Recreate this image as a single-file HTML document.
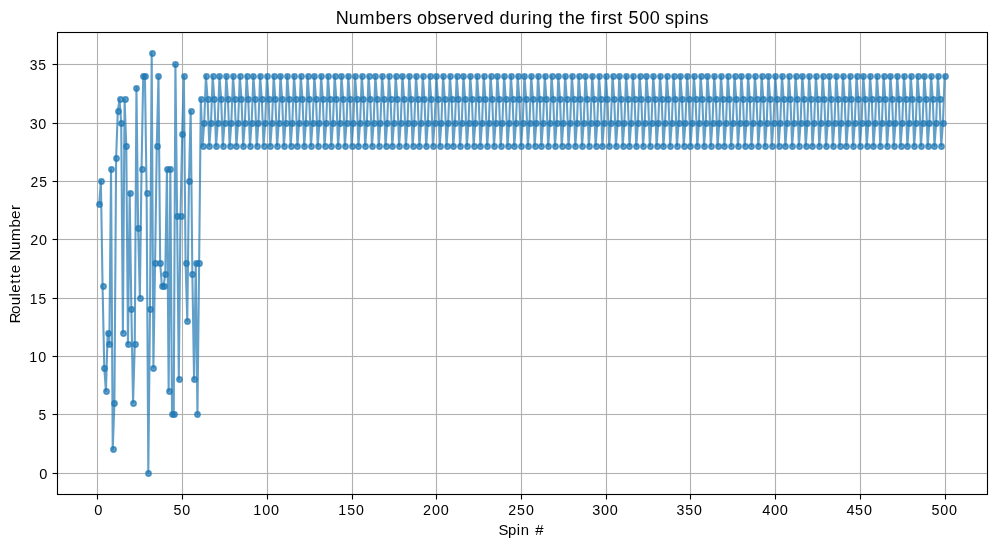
<!DOCTYPE html>
<html><head><meta charset="utf-8"><title>Numbers observed during the first 500 spins</title>
<style>html,body{margin:0;padding:0;background:#fff;width:996px;height:547px;overflow:hidden}svg{display:block}text{font-family:"Liberation Sans",sans-serif;fill:#000}</style></head><body>
<svg width="996" height="547" viewBox="0 0 996 547">
<rect x="0" y="0" width="996" height="547" fill="#fff"/>
<path d="M97.5 32.50V494.50M182.5 32.50V494.50M267.5 32.50V494.50M352.5 32.50V494.50M436.5 32.50V494.50M521.5 32.50V494.50M606.5 32.50V494.50M690.5 32.50V494.50M775.5 32.50V494.50M860.5 32.50V494.50M945.5 32.50V494.50M57.50 473.5H987.50M57.50 414.5H987.50M57.50 356.5H987.50M57.50 298.5H987.50M57.50 239.5H987.50M57.50 181.5H987.50M57.50 123.5H987.50M57.50 64.5H987.50" stroke="#b0b0b0" stroke-width="1.111" fill="none" shape-rendering="auto"/>
<path d="M57.50 472.5H987.50M57.50 474.5H987.50M57.50 413.5H987.50M57.50 415.5H987.50M57.50 355.5H987.50M57.50 357.5H987.50M57.50 297.5H987.50M57.50 299.5H987.50M57.50 238.5H987.50M57.50 240.5H987.50M57.50 180.5H987.50M57.50 182.5H987.50M57.50 122.5H987.50M57.50 124.5H987.50M57.50 63.5H987.50M57.50 65.5H987.50" stroke="#b0b0b0" stroke-opacity="0.055" stroke-width="1" fill="none"/>
<path d="M99.18 204.39L100.87 181.06L102.56 286.06L104.26 367.72L105.95 391.06L107.65 332.72L109.34 344.39L111.04 169.39L112.73 449.39L114.42 402.72L116.12 157.72L117.81 111.06L119.51 99.39L121.20 122.72L122.90 332.72L124.59 99.39L126.28 146.06L127.98 344.39L129.67 192.72L131.37 309.39L133.06 402.72L134.76 344.39L136.45 87.72L138.14 227.72L139.84 297.72L141.53 169.39L143.23 76.06L144.92 76.06L146.62 192.72L148.31 472.72L150.00 309.39L151.70 52.72L153.39 367.72L155.09 262.72L156.78 146.06L158.48 76.06L160.17 262.72L161.86 286.06L163.56 286.06L165.25 274.39L166.95 169.39L168.64 391.06L170.34 169.39L172.03 414.39L173.72 414.39L175.42 64.39L177.11 216.06L178.81 379.39L180.50 216.06L182.20 134.39L183.89 76.06L185.58 262.72L187.28 321.06L188.97 181.06L190.67 111.06L192.36 274.39L194.06 379.39L195.75 262.72L197.44 414.39L199.14 262.72L200.83 99.39L202.53 146.06L204.22 122.72L205.92 76.06L207.61 99.39L209.30 146.06L211.00 122.72L212.69 76.06L214.39 99.39L216.08 146.06L217.78 122.72L219.47 76.06L221.16 99.39L222.86 146.06L224.55 122.72L226.25 76.06L227.94 99.39L229.64 146.06L231.33 122.72L233.03 76.06L234.72 99.39L236.41 146.06L238.11 122.72L239.80 76.06L241.50 99.39L243.19 146.06L244.89 122.72L246.58 76.06L248.27 99.39L249.97 146.06L251.66 122.72L253.36 76.06L255.05 99.39L256.75 146.06L258.44 122.72L260.13 76.06L261.83 99.39L263.52 146.06L265.22 122.72L266.91 76.06L268.61 99.39L270.30 146.06L271.99 122.72L273.69 76.06L275.38 99.39L277.08 146.06L278.77 122.72L280.47 76.06L282.16 99.39L283.85 146.06L285.55 122.72L287.24 76.06L288.94 99.39L290.63 146.06L292.33 122.72L294.02 76.06L295.71 99.39L297.41 146.06L299.10 122.72L300.80 76.06L302.49 99.39L304.19 146.06L305.88 122.72L307.57 76.06L309.27 99.39L310.96 146.06L312.66 122.72L314.35 76.06L316.05 99.39L317.74 146.06L319.43 122.72L321.13 76.06L322.82 99.39L324.52 146.06L326.21 122.72L327.91 76.06L329.60 99.39L331.29 146.06L332.99 122.72L334.68 76.06L336.38 99.39L338.07 146.06L339.77 122.72L341.46 76.06L343.15 99.39L344.85 146.06L346.54 122.72L348.24 76.06L349.93 99.39L351.63 146.06L353.32 122.72L355.01 76.06L356.71 99.39L358.40 146.06L360.10 122.72L361.79 76.06L363.49 99.39L365.18 146.06L366.87 122.72L368.57 76.06L370.26 99.39L371.96 146.06L373.65 122.72L375.35 76.06L377.04 99.39L378.73 146.06L380.43 122.72L382.12 76.06L383.82 99.39L385.51 146.06L387.21 122.72L388.90 76.06L390.59 99.39L392.29 146.06L393.98 122.72L395.68 76.06L397.37 99.39L399.07 146.06L400.76 122.72L402.45 76.06L404.15 99.39L405.84 146.06L407.54 122.72L409.23 76.06L410.93 99.39L412.62 146.06L414.31 122.72L416.01 76.06L417.70 99.39L419.40 146.06L421.09 122.72L422.79 76.06L424.48 99.39L426.17 146.06L427.87 122.72L429.56 76.06L431.26 99.39L432.95 146.06L434.65 122.72L436.34 76.06L438.04 99.39L439.73 146.06L441.42 122.72L443.12 76.06L444.81 99.39L446.51 146.06L448.20 122.72L449.90 76.06L451.59 99.39L453.28 146.06L454.98 122.72L456.67 76.06L458.37 99.39L460.06 146.06L461.76 122.72L463.45 76.06L465.14 99.39L466.84 146.06L468.53 122.72L470.23 76.06L471.92 99.39L473.62 146.06L475.31 122.72L477.00 76.06L478.70 99.39L480.39 146.06L482.09 122.72L483.78 76.06L485.48 99.39L487.17 146.06L488.86 122.72L490.56 76.06L492.25 99.39L493.95 146.06L495.64 122.72L497.34 76.06L499.03 99.39L500.72 146.06L502.42 122.72L504.11 76.06L505.81 99.39L507.50 146.06L509.20 122.72L510.89 76.06L512.58 99.39L514.28 146.06L515.97 122.72L517.67 76.06L519.36 99.39L521.06 146.06L522.75 122.72L524.44 76.06L526.14 99.39L527.83 146.06L529.53 122.72L531.22 76.06L532.92 99.39L534.61 146.06L536.30 122.72L538.00 76.06L539.69 99.39L541.39 146.06L543.08 122.72L544.78 76.06L546.47 99.39L548.16 146.06L549.86 122.72L551.55 76.06L553.25 99.39L554.94 146.06L556.64 122.72L558.33 76.06L560.02 99.39L561.72 146.06L563.41 122.72L565.11 76.06L566.80 99.39L568.50 146.06L570.19 122.72L571.88 76.06L573.58 99.39L575.27 146.06L576.97 122.72L578.66 76.06L580.36 99.39L582.05 146.06L583.74 122.72L585.44 76.06L587.13 99.39L588.83 146.06L590.52 122.72L592.22 76.06L593.91 99.39L595.60 146.06L597.30 122.72L598.99 76.06L600.69 99.39L602.38 146.06L604.08 122.72L605.77 76.06L607.46 99.39L609.16 146.06L610.85 122.72L612.55 76.06L614.24 99.39L615.94 146.06L617.63 122.72L619.32 76.06L621.02 99.39L622.71 146.06L624.41 122.72L626.10 76.06L627.80 99.39L629.49 146.06L631.18 122.72L632.88 76.06L634.57 99.39L636.27 146.06L637.96 122.72L639.66 76.06L641.35 99.39L643.05 146.06L644.74 122.72L646.43 76.06L648.13 99.39L649.82 146.06L651.52 122.72L653.21 76.06L654.91 99.39L656.60 146.06L658.29 122.72L659.99 76.06L661.68 99.39L663.38 146.06L665.07 122.72L666.77 76.06L668.46 99.39L670.15 146.06L671.85 122.72L673.54 76.06L675.24 99.39L676.93 146.06L678.63 122.72L680.32 76.06L682.01 99.39L683.71 146.06L685.40 122.72L687.10 76.06L688.79 99.39L690.49 146.06L692.18 122.72L693.87 76.06L695.57 99.39L697.26 146.06L698.96 122.72L700.65 76.06L702.35 99.39L704.04 146.06L705.73 122.72L707.43 76.06L709.12 99.39L710.82 146.06L712.51 122.72L714.21 76.06L715.90 99.39L717.59 146.06L719.29 122.72L720.98 76.06L722.68 99.39L724.37 146.06L726.07 122.72L727.76 76.06L729.45 99.39L731.15 146.06L732.84 122.72L734.54 76.06L736.23 99.39L737.93 146.06L739.62 122.72L741.31 76.06L743.01 99.39L744.70 146.06L746.40 122.72L748.09 76.06L749.79 99.39L751.48 146.06L753.17 122.72L754.87 76.06L756.56 99.39L758.26 146.06L759.95 122.72L761.65 76.06L763.34 99.39L765.03 146.06L766.73 122.72L768.42 76.06L770.12 99.39L771.81 146.06L773.51 122.72L775.20 76.06L776.89 99.39L778.59 146.06L780.28 122.72L781.98 76.06L783.67 99.39L785.37 146.06L787.06 122.72L788.75 76.06L790.45 99.39L792.14 146.06L793.84 122.72L795.53 76.06L797.23 99.39L798.92 146.06L800.61 122.72L802.31 76.06L804.00 99.39L805.70 146.06L807.39 122.72L809.09 76.06L810.78 99.39L812.47 146.06L814.17 122.72L815.86 76.06L817.56 99.39L819.25 146.06L820.95 122.72L822.64 76.06L824.33 99.39L826.03 146.06L827.72 122.72L829.42 76.06L831.11 99.39L832.81 146.06L834.50 122.72L836.19 76.06L837.89 99.39L839.58 146.06L841.28 122.72L842.97 76.06L844.67 99.39L846.36 146.06L848.06 122.72L849.75 76.06L851.44 99.39L853.14 146.06L854.83 122.72L856.53 76.06L858.22 99.39L859.92 146.06L861.61 122.72L863.30 76.06L865.00 99.39L866.69 146.06L868.39 122.72L870.08 76.06L871.78 99.39L873.47 146.06L875.16 122.72L876.86 76.06L878.55 99.39L880.25 146.06L881.94 122.72L883.64 76.06L885.33 99.39L887.02 146.06L888.72 122.72L890.41 76.06L892.11 99.39L893.80 146.06L895.50 122.72L897.19 76.06L898.88 99.39L900.58 146.06L902.27 122.72L903.97 76.06L905.66 99.39L907.36 146.06L909.05 122.72L910.74 76.06L912.44 99.39L914.13 146.06L915.83 122.72L917.52 76.06L919.22 99.39L920.91 146.06L922.60 122.72L924.30 76.06L925.99 99.39L927.69 146.06L929.38 122.72L931.08 76.06L932.77 99.39L934.46 146.06L936.16 122.72L937.85 76.06L939.55 99.39L941.24 146.06L942.94 122.72L944.63 76.06" stroke="#1f77b4" stroke-opacity="0.7" stroke-width="2.083" fill="none" stroke-linejoin="round" stroke-linecap="square"/>
<g fill="#1f77b4" fill-opacity="0.7" stroke="#1f77b4" stroke-opacity="0.7" stroke-width="1.300"><circle cx="99.5" cy="204.5" r="2.740"/><circle cx="101.5" cy="181.5" r="2.740"/><circle cx="103.5" cy="286.5" r="2.740"/><circle cx="104.5" cy="368.5" r="2.740"/><circle cx="106.5" cy="391.5" r="2.740"/><circle cx="108.5" cy="333.5" r="2.740"/><circle cx="109.5" cy="344.5" r="2.740"/><circle cx="111.5" cy="169.5" r="2.740"/><circle cx="113.5" cy="449.5" r="2.740"/><circle cx="114.5" cy="403.5" r="2.740"/><circle cx="116.5" cy="158.5" r="2.740"/><circle cx="118.5" cy="111.5" r="2.740"/><circle cx="120.5" cy="99.5" r="2.740"/><circle cx="121.5" cy="123.5" r="2.740"/><circle cx="123.5" cy="333.5" r="2.740"/><circle cx="125.5" cy="99.5" r="2.740"/><circle cx="126.5" cy="146.5" r="2.740"/><circle cx="128.5" cy="344.5" r="2.740"/><circle cx="130.5" cy="193.5" r="2.740"/><circle cx="131.5" cy="309.5" r="2.740"/><circle cx="133.5" cy="403.5" r="2.740"/><circle cx="135.5" cy="344.5" r="2.740"/><circle cx="136.5" cy="88.5" r="2.740"/><circle cx="138.5" cy="228.5" r="2.740"/><circle cx="140.5" cy="298.5" r="2.740"/><circle cx="142.5" cy="169.5" r="2.740"/><circle cx="143.5" cy="76.5" r="2.740"/><circle cx="145.5" cy="76.5" r="2.740"/><circle cx="147.5" cy="193.5" r="2.740"/><circle cx="148.5" cy="473.5" r="2.740"/><circle cx="150.5" cy="309.5" r="2.740"/><circle cx="152.5" cy="53.5" r="2.740"/><circle cx="153.5" cy="368.5" r="2.740"/><circle cx="155.5" cy="263.5" r="2.740"/><circle cx="157.5" cy="146.5" r="2.740"/><circle cx="158.5" cy="76.5" r="2.740"/><circle cx="160.5" cy="263.5" r="2.740"/><circle cx="162.5" cy="286.5" r="2.740"/><circle cx="164.5" cy="286.5" r="2.740"/><circle cx="165.5" cy="274.5" r="2.740"/><circle cx="167.5" cy="169.5" r="2.740"/><circle cx="169.5" cy="391.5" r="2.740"/><circle cx="170.5" cy="169.5" r="2.740"/><circle cx="172.5" cy="414.5" r="2.740"/><circle cx="174.5" cy="414.5" r="2.740"/><circle cx="175.5" cy="64.5" r="2.740"/><circle cx="177.5" cy="216.5" r="2.740"/><circle cx="179.5" cy="379.5" r="2.740"/><circle cx="181.5" cy="216.5" r="2.740"/><circle cx="182.5" cy="134.5" r="2.740"/><circle cx="184.5" cy="76.5" r="2.740"/><circle cx="186.5" cy="263.5" r="2.740"/><circle cx="187.5" cy="321.5" r="2.740"/><circle cx="189.5" cy="181.5" r="2.740"/><circle cx="191.5" cy="111.5" r="2.740"/><circle cx="192.5" cy="274.5" r="2.740"/><circle cx="194.5" cy="379.5" r="2.740"/><circle cx="196.5" cy="263.5" r="2.740"/><circle cx="197.5" cy="414.5" r="2.740"/><circle cx="199.5" cy="263.5" r="2.740"/><circle cx="201.5" cy="99.5" r="2.740"/><circle cx="203.5" cy="146.5" r="2.740"/><circle cx="204.5" cy="123.5" r="2.740"/><circle cx="206.5" cy="76.5" r="2.740"/><circle cx="208.5" cy="99.5" r="2.740"/><circle cx="209.5" cy="146.5" r="2.740"/><circle cx="211.5" cy="123.5" r="2.740"/><circle cx="213.5" cy="76.5" r="2.740"/><circle cx="214.5" cy="99.5" r="2.740"/><circle cx="216.5" cy="146.5" r="2.740"/><circle cx="218.5" cy="123.5" r="2.740"/><circle cx="219.5" cy="76.5" r="2.740"/><circle cx="221.5" cy="99.5" r="2.740"/><circle cx="223.5" cy="146.5" r="2.740"/><circle cx="225.5" cy="123.5" r="2.740"/><circle cx="226.5" cy="76.5" r="2.740"/><circle cx="228.5" cy="99.5" r="2.740"/><circle cx="230.5" cy="146.5" r="2.740"/><circle cx="231.5" cy="123.5" r="2.740"/><circle cx="233.5" cy="76.5" r="2.740"/><circle cx="235.5" cy="99.5" r="2.740"/><circle cx="236.5" cy="146.5" r="2.740"/><circle cx="238.5" cy="123.5" r="2.740"/><circle cx="240.5" cy="76.5" r="2.740"/><circle cx="241.5" cy="99.5" r="2.740"/><circle cx="243.5" cy="146.5" r="2.740"/><circle cx="245.5" cy="123.5" r="2.740"/><circle cx="247.5" cy="76.5" r="2.740"/><circle cx="248.5" cy="99.5" r="2.740"/><circle cx="250.5" cy="146.5" r="2.740"/><circle cx="252.5" cy="123.5" r="2.740"/><circle cx="253.5" cy="76.5" r="2.740"/><circle cx="255.5" cy="99.5" r="2.740"/><circle cx="257.5" cy="146.5" r="2.740"/><circle cx="258.5" cy="123.5" r="2.740"/><circle cx="260.5" cy="76.5" r="2.740"/><circle cx="262.5" cy="99.5" r="2.740"/><circle cx="264.5" cy="146.5" r="2.740"/><circle cx="265.5" cy="123.5" r="2.740"/><circle cx="267.5" cy="76.5" r="2.740"/><circle cx="269.5" cy="99.5" r="2.740"/><circle cx="270.5" cy="146.5" r="2.740"/><circle cx="272.5" cy="123.5" r="2.740"/><circle cx="274.5" cy="76.5" r="2.740"/><circle cx="275.5" cy="99.5" r="2.740"/><circle cx="277.5" cy="146.5" r="2.740"/><circle cx="279.5" cy="123.5" r="2.740"/><circle cx="280.5" cy="76.5" r="2.740"/><circle cx="282.5" cy="99.5" r="2.740"/><circle cx="284.5" cy="146.5" r="2.740"/><circle cx="286.5" cy="123.5" r="2.740"/><circle cx="287.5" cy="76.5" r="2.740"/><circle cx="289.5" cy="99.5" r="2.740"/><circle cx="291.5" cy="146.5" r="2.740"/><circle cx="292.5" cy="123.5" r="2.740"/><circle cx="294.5" cy="76.5" r="2.740"/><circle cx="296.5" cy="99.5" r="2.740"/><circle cx="297.5" cy="146.5" r="2.740"/><circle cx="299.5" cy="123.5" r="2.740"/><circle cx="301.5" cy="76.5" r="2.740"/><circle cx="302.5" cy="99.5" r="2.740"/><circle cx="304.5" cy="146.5" r="2.740"/><circle cx="306.5" cy="123.5" r="2.740"/><circle cx="308.5" cy="76.5" r="2.740"/><circle cx="309.5" cy="99.5" r="2.740"/><circle cx="311.5" cy="146.5" r="2.740"/><circle cx="313.5" cy="123.5" r="2.740"/><circle cx="314.5" cy="76.5" r="2.740"/><circle cx="316.5" cy="99.5" r="2.740"/><circle cx="318.5" cy="146.5" r="2.740"/><circle cx="319.5" cy="123.5" r="2.740"/><circle cx="321.5" cy="76.5" r="2.740"/><circle cx="323.5" cy="99.5" r="2.740"/><circle cx="325.5" cy="146.5" r="2.740"/><circle cx="326.5" cy="123.5" r="2.740"/><circle cx="328.5" cy="76.5" r="2.740"/><circle cx="330.5" cy="99.5" r="2.740"/><circle cx="331.5" cy="146.5" r="2.740"/><circle cx="333.5" cy="123.5" r="2.740"/><circle cx="335.5" cy="76.5" r="2.740"/><circle cx="336.5" cy="99.5" r="2.740"/><circle cx="338.5" cy="146.5" r="2.740"/><circle cx="340.5" cy="123.5" r="2.740"/><circle cx="341.5" cy="76.5" r="2.740"/><circle cx="343.5" cy="99.5" r="2.740"/><circle cx="345.5" cy="146.5" r="2.740"/><circle cx="347.5" cy="123.5" r="2.740"/><circle cx="348.5" cy="76.5" r="2.740"/><circle cx="350.5" cy="99.5" r="2.740"/><circle cx="352.5" cy="146.5" r="2.740"/><circle cx="353.5" cy="123.5" r="2.740"/><circle cx="355.5" cy="76.5" r="2.740"/><circle cx="357.5" cy="99.5" r="2.740"/><circle cx="358.5" cy="146.5" r="2.740"/><circle cx="360.5" cy="123.5" r="2.740"/><circle cx="362.5" cy="76.5" r="2.740"/><circle cx="363.5" cy="99.5" r="2.740"/><circle cx="365.5" cy="146.5" r="2.740"/><circle cx="367.5" cy="123.5" r="2.740"/><circle cx="369.5" cy="76.5" r="2.740"/><circle cx="370.5" cy="99.5" r="2.740"/><circle cx="372.5" cy="146.5" r="2.740"/><circle cx="374.5" cy="123.5" r="2.740"/><circle cx="375.5" cy="76.5" r="2.740"/><circle cx="377.5" cy="99.5" r="2.740"/><circle cx="379.5" cy="146.5" r="2.740"/><circle cx="380.5" cy="123.5" r="2.740"/><circle cx="382.5" cy="76.5" r="2.740"/><circle cx="384.5" cy="99.5" r="2.740"/><circle cx="386.5" cy="146.5" r="2.740"/><circle cx="387.5" cy="123.5" r="2.740"/><circle cx="389.5" cy="76.5" r="2.740"/><circle cx="391.5" cy="99.5" r="2.740"/><circle cx="392.5" cy="146.5" r="2.740"/><circle cx="394.5" cy="123.5" r="2.740"/><circle cx="396.5" cy="76.5" r="2.740"/><circle cx="397.5" cy="99.5" r="2.740"/><circle cx="399.5" cy="146.5" r="2.740"/><circle cx="401.5" cy="123.5" r="2.740"/><circle cx="402.5" cy="76.5" r="2.740"/><circle cx="404.5" cy="99.5" r="2.740"/><circle cx="406.5" cy="146.5" r="2.740"/><circle cx="408.5" cy="123.5" r="2.740"/><circle cx="409.5" cy="76.5" r="2.740"/><circle cx="411.5" cy="99.5" r="2.740"/><circle cx="413.5" cy="146.5" r="2.740"/><circle cx="414.5" cy="123.5" r="2.740"/><circle cx="416.5" cy="76.5" r="2.740"/><circle cx="418.5" cy="99.5" r="2.740"/><circle cx="419.5" cy="146.5" r="2.740"/><circle cx="421.5" cy="123.5" r="2.740"/><circle cx="423.5" cy="76.5" r="2.740"/><circle cx="424.5" cy="99.5" r="2.740"/><circle cx="426.5" cy="146.5" r="2.740"/><circle cx="428.5" cy="123.5" r="2.740"/><circle cx="430.5" cy="76.5" r="2.740"/><circle cx="431.5" cy="99.5" r="2.740"/><circle cx="433.5" cy="146.5" r="2.740"/><circle cx="435.5" cy="123.5" r="2.740"/><circle cx="436.5" cy="76.5" r="2.740"/><circle cx="438.5" cy="99.5" r="2.740"/><circle cx="440.5" cy="146.5" r="2.740"/><circle cx="441.5" cy="123.5" r="2.740"/><circle cx="443.5" cy="76.5" r="2.740"/><circle cx="445.5" cy="99.5" r="2.740"/><circle cx="447.5" cy="146.5" r="2.740"/><circle cx="448.5" cy="123.5" r="2.740"/><circle cx="450.5" cy="76.5" r="2.740"/><circle cx="452.5" cy="99.5" r="2.740"/><circle cx="453.5" cy="146.5" r="2.740"/><circle cx="455.5" cy="123.5" r="2.740"/><circle cx="457.5" cy="76.5" r="2.740"/><circle cx="458.5" cy="99.5" r="2.740"/><circle cx="460.5" cy="146.5" r="2.740"/><circle cx="462.5" cy="123.5" r="2.740"/><circle cx="463.5" cy="76.5" r="2.740"/><circle cx="465.5" cy="99.5" r="2.740"/><circle cx="467.5" cy="146.5" r="2.740"/><circle cx="469.5" cy="123.5" r="2.740"/><circle cx="470.5" cy="76.5" r="2.740"/><circle cx="472.5" cy="99.5" r="2.740"/><circle cx="474.5" cy="146.5" r="2.740"/><circle cx="475.5" cy="123.5" r="2.740"/><circle cx="477.5" cy="76.5" r="2.740"/><circle cx="479.5" cy="99.5" r="2.740"/><circle cx="480.5" cy="146.5" r="2.740"/><circle cx="482.5" cy="123.5" r="2.740"/><circle cx="484.5" cy="76.5" r="2.740"/><circle cx="485.5" cy="99.5" r="2.740"/><circle cx="487.5" cy="146.5" r="2.740"/><circle cx="489.5" cy="123.5" r="2.740"/><circle cx="491.5" cy="76.5" r="2.740"/><circle cx="492.5" cy="99.5" r="2.740"/><circle cx="494.5" cy="146.5" r="2.740"/><circle cx="496.5" cy="123.5" r="2.740"/><circle cx="497.5" cy="76.5" r="2.740"/><circle cx="499.5" cy="99.5" r="2.740"/><circle cx="501.5" cy="146.5" r="2.740"/><circle cx="502.5" cy="123.5" r="2.740"/><circle cx="504.5" cy="76.5" r="2.740"/><circle cx="506.5" cy="99.5" r="2.740"/><circle cx="508.5" cy="146.5" r="2.740"/><circle cx="509.5" cy="123.5" r="2.740"/><circle cx="511.5" cy="76.5" r="2.740"/><circle cx="513.5" cy="99.5" r="2.740"/><circle cx="514.5" cy="146.5" r="2.740"/><circle cx="516.5" cy="123.5" r="2.740"/><circle cx="518.5" cy="76.5" r="2.740"/><circle cx="519.5" cy="99.5" r="2.740"/><circle cx="521.5" cy="146.5" r="2.740"/><circle cx="523.5" cy="123.5" r="2.740"/><circle cx="524.5" cy="76.5" r="2.740"/><circle cx="526.5" cy="99.5" r="2.740"/><circle cx="528.5" cy="146.5" r="2.740"/><circle cx="530.5" cy="123.5" r="2.740"/><circle cx="531.5" cy="76.5" r="2.740"/><circle cx="533.5" cy="99.5" r="2.740"/><circle cx="535.5" cy="146.5" r="2.740"/><circle cx="536.5" cy="123.5" r="2.740"/><circle cx="538.5" cy="76.5" r="2.740"/><circle cx="540.5" cy="99.5" r="2.740"/><circle cx="541.5" cy="146.5" r="2.740"/><circle cx="543.5" cy="123.5" r="2.740"/><circle cx="545.5" cy="76.5" r="2.740"/><circle cx="546.5" cy="99.5" r="2.740"/><circle cx="548.5" cy="146.5" r="2.740"/><circle cx="550.5" cy="123.5" r="2.740"/><circle cx="552.5" cy="76.5" r="2.740"/><circle cx="553.5" cy="99.5" r="2.740"/><circle cx="555.5" cy="146.5" r="2.740"/><circle cx="557.5" cy="123.5" r="2.740"/><circle cx="558.5" cy="76.5" r="2.740"/><circle cx="560.5" cy="99.5" r="2.740"/><circle cx="562.5" cy="146.5" r="2.740"/><circle cx="563.5" cy="123.5" r="2.740"/><circle cx="565.5" cy="76.5" r="2.740"/><circle cx="567.5" cy="99.5" r="2.740"/><circle cx="568.5" cy="146.5" r="2.740"/><circle cx="570.5" cy="123.5" r="2.740"/><circle cx="572.5" cy="76.5" r="2.740"/><circle cx="574.5" cy="99.5" r="2.740"/><circle cx="575.5" cy="146.5" r="2.740"/><circle cx="577.5" cy="123.5" r="2.740"/><circle cx="579.5" cy="76.5" r="2.740"/><circle cx="580.5" cy="99.5" r="2.740"/><circle cx="582.5" cy="146.5" r="2.740"/><circle cx="584.5" cy="123.5" r="2.740"/><circle cx="585.5" cy="76.5" r="2.740"/><circle cx="587.5" cy="99.5" r="2.740"/><circle cx="589.5" cy="146.5" r="2.740"/><circle cx="591.5" cy="123.5" r="2.740"/><circle cx="592.5" cy="76.5" r="2.740"/><circle cx="594.5" cy="99.5" r="2.740"/><circle cx="596.5" cy="146.5" r="2.740"/><circle cx="597.5" cy="123.5" r="2.740"/><circle cx="599.5" cy="76.5" r="2.740"/><circle cx="601.5" cy="99.5" r="2.740"/><circle cx="602.5" cy="146.5" r="2.740"/><circle cx="604.5" cy="123.5" r="2.740"/><circle cx="606.5" cy="76.5" r="2.740"/><circle cx="607.5" cy="99.5" r="2.740"/><circle cx="609.5" cy="146.5" r="2.740"/><circle cx="611.5" cy="123.5" r="2.740"/><circle cx="613.5" cy="76.5" r="2.740"/><circle cx="614.5" cy="99.5" r="2.740"/><circle cx="616.5" cy="146.5" r="2.740"/><circle cx="618.5" cy="123.5" r="2.740"/><circle cx="619.5" cy="76.5" r="2.740"/><circle cx="621.5" cy="99.5" r="2.740"/><circle cx="623.5" cy="146.5" r="2.740"/><circle cx="624.5" cy="123.5" r="2.740"/><circle cx="626.5" cy="76.5" r="2.740"/><circle cx="628.5" cy="99.5" r="2.740"/><circle cx="629.5" cy="146.5" r="2.740"/><circle cx="631.5" cy="123.5" r="2.740"/><circle cx="633.5" cy="76.5" r="2.740"/><circle cx="635.5" cy="99.5" r="2.740"/><circle cx="636.5" cy="146.5" r="2.740"/><circle cx="638.5" cy="123.5" r="2.740"/><circle cx="640.5" cy="76.5" r="2.740"/><circle cx="641.5" cy="99.5" r="2.740"/><circle cx="643.5" cy="146.5" r="2.740"/><circle cx="645.5" cy="123.5" r="2.740"/><circle cx="646.5" cy="76.5" r="2.740"/><circle cx="648.5" cy="99.5" r="2.740"/><circle cx="650.5" cy="146.5" r="2.740"/><circle cx="652.5" cy="123.5" r="2.740"/><circle cx="653.5" cy="76.5" r="2.740"/><circle cx="655.5" cy="99.5" r="2.740"/><circle cx="657.5" cy="146.5" r="2.740"/><circle cx="658.5" cy="123.5" r="2.740"/><circle cx="660.5" cy="76.5" r="2.740"/><circle cx="662.5" cy="99.5" r="2.740"/><circle cx="663.5" cy="146.5" r="2.740"/><circle cx="665.5" cy="123.5" r="2.740"/><circle cx="667.5" cy="76.5" r="2.740"/><circle cx="668.5" cy="99.5" r="2.740"/><circle cx="670.5" cy="146.5" r="2.740"/><circle cx="672.5" cy="123.5" r="2.740"/><circle cx="674.5" cy="76.5" r="2.740"/><circle cx="675.5" cy="99.5" r="2.740"/><circle cx="677.5" cy="146.5" r="2.740"/><circle cx="679.5" cy="123.5" r="2.740"/><circle cx="680.5" cy="76.5" r="2.740"/><circle cx="682.5" cy="99.5" r="2.740"/><circle cx="684.5" cy="146.5" r="2.740"/><circle cx="685.5" cy="123.5" r="2.740"/><circle cx="687.5" cy="76.5" r="2.740"/><circle cx="689.5" cy="99.5" r="2.740"/><circle cx="690.5" cy="146.5" r="2.740"/><circle cx="692.5" cy="123.5" r="2.740"/><circle cx="694.5" cy="76.5" r="2.740"/><circle cx="696.5" cy="99.5" r="2.740"/><circle cx="697.5" cy="146.5" r="2.740"/><circle cx="699.5" cy="123.5" r="2.740"/><circle cx="701.5" cy="76.5" r="2.740"/><circle cx="702.5" cy="99.5" r="2.740"/><circle cx="704.5" cy="146.5" r="2.740"/><circle cx="706.5" cy="123.5" r="2.740"/><circle cx="707.5" cy="76.5" r="2.740"/><circle cx="709.5" cy="99.5" r="2.740"/><circle cx="711.5" cy="146.5" r="2.740"/><circle cx="713.5" cy="123.5" r="2.740"/><circle cx="714.5" cy="76.5" r="2.740"/><circle cx="716.5" cy="99.5" r="2.740"/><circle cx="718.5" cy="146.5" r="2.740"/><circle cx="719.5" cy="123.5" r="2.740"/><circle cx="721.5" cy="76.5" r="2.740"/><circle cx="723.5" cy="99.5" r="2.740"/><circle cx="724.5" cy="146.5" r="2.740"/><circle cx="726.5" cy="123.5" r="2.740"/><circle cx="728.5" cy="76.5" r="2.740"/><circle cx="729.5" cy="99.5" r="2.740"/><circle cx="731.5" cy="146.5" r="2.740"/><circle cx="733.5" cy="123.5" r="2.740"/><circle cx="735.5" cy="76.5" r="2.740"/><circle cx="736.5" cy="99.5" r="2.740"/><circle cx="738.5" cy="146.5" r="2.740"/><circle cx="740.5" cy="123.5" r="2.740"/><circle cx="741.5" cy="76.5" r="2.740"/><circle cx="743.5" cy="99.5" r="2.740"/><circle cx="745.5" cy="146.5" r="2.740"/><circle cx="746.5" cy="123.5" r="2.740"/><circle cx="748.5" cy="76.5" r="2.740"/><circle cx="750.5" cy="99.5" r="2.740"/><circle cx="751.5" cy="146.5" r="2.740"/><circle cx="753.5" cy="123.5" r="2.740"/><circle cx="755.5" cy="76.5" r="2.740"/><circle cx="757.5" cy="99.5" r="2.740"/><circle cx="758.5" cy="146.5" r="2.740"/><circle cx="760.5" cy="123.5" r="2.740"/><circle cx="762.5" cy="76.5" r="2.740"/><circle cx="763.5" cy="99.5" r="2.740"/><circle cx="765.5" cy="146.5" r="2.740"/><circle cx="767.5" cy="123.5" r="2.740"/><circle cx="768.5" cy="76.5" r="2.740"/><circle cx="770.5" cy="99.5" r="2.740"/><circle cx="772.5" cy="146.5" r="2.740"/><circle cx="774.5" cy="123.5" r="2.740"/><circle cx="775.5" cy="76.5" r="2.740"/><circle cx="777.5" cy="99.5" r="2.740"/><circle cx="779.5" cy="146.5" r="2.740"/><circle cx="780.5" cy="123.5" r="2.740"/><circle cx="782.5" cy="76.5" r="2.740"/><circle cx="784.5" cy="99.5" r="2.740"/><circle cx="785.5" cy="146.5" r="2.740"/><circle cx="787.5" cy="123.5" r="2.740"/><circle cx="789.5" cy="76.5" r="2.740"/><circle cx="790.5" cy="99.5" r="2.740"/><circle cx="792.5" cy="146.5" r="2.740"/><circle cx="794.5" cy="123.5" r="2.740"/><circle cx="796.5" cy="76.5" r="2.740"/><circle cx="797.5" cy="99.5" r="2.740"/><circle cx="799.5" cy="146.5" r="2.740"/><circle cx="801.5" cy="123.5" r="2.740"/><circle cx="802.5" cy="76.5" r="2.740"/><circle cx="804.5" cy="99.5" r="2.740"/><circle cx="806.5" cy="146.5" r="2.740"/><circle cx="807.5" cy="123.5" r="2.740"/><circle cx="809.5" cy="76.5" r="2.740"/><circle cx="811.5" cy="99.5" r="2.740"/><circle cx="812.5" cy="146.5" r="2.740"/><circle cx="814.5" cy="123.5" r="2.740"/><circle cx="816.5" cy="76.5" r="2.740"/><circle cx="818.5" cy="99.5" r="2.740"/><circle cx="819.5" cy="146.5" r="2.740"/><circle cx="821.5" cy="123.5" r="2.740"/><circle cx="823.5" cy="76.5" r="2.740"/><circle cx="824.5" cy="99.5" r="2.740"/><circle cx="826.5" cy="146.5" r="2.740"/><circle cx="828.5" cy="123.5" r="2.740"/><circle cx="829.5" cy="76.5" r="2.740"/><circle cx="831.5" cy="99.5" r="2.740"/><circle cx="833.5" cy="146.5" r="2.740"/><circle cx="835.5" cy="123.5" r="2.740"/><circle cx="836.5" cy="76.5" r="2.740"/><circle cx="838.5" cy="99.5" r="2.740"/><circle cx="840.5" cy="146.5" r="2.740"/><circle cx="841.5" cy="123.5" r="2.740"/><circle cx="843.5" cy="76.5" r="2.740"/><circle cx="845.5" cy="99.5" r="2.740"/><circle cx="846.5" cy="146.5" r="2.740"/><circle cx="848.5" cy="123.5" r="2.740"/><circle cx="850.5" cy="76.5" r="2.740"/><circle cx="851.5" cy="99.5" r="2.740"/><circle cx="853.5" cy="146.5" r="2.740"/><circle cx="855.5" cy="123.5" r="2.740"/><circle cx="857.5" cy="76.5" r="2.740"/><circle cx="858.5" cy="99.5" r="2.740"/><circle cx="860.5" cy="146.5" r="2.740"/><circle cx="862.5" cy="123.5" r="2.740"/><circle cx="863.5" cy="76.5" r="2.740"/><circle cx="865.5" cy="99.5" r="2.740"/><circle cx="867.5" cy="146.5" r="2.740"/><circle cx="868.5" cy="123.5" r="2.740"/><circle cx="870.5" cy="76.5" r="2.740"/><circle cx="872.5" cy="99.5" r="2.740"/><circle cx="873.5" cy="146.5" r="2.740"/><circle cx="875.5" cy="123.5" r="2.740"/><circle cx="877.5" cy="76.5" r="2.740"/><circle cx="879.5" cy="99.5" r="2.740"/><circle cx="880.5" cy="146.5" r="2.740"/><circle cx="882.5" cy="123.5" r="2.740"/><circle cx="884.5" cy="76.5" r="2.740"/><circle cx="885.5" cy="99.5" r="2.740"/><circle cx="887.5" cy="146.5" r="2.740"/><circle cx="889.5" cy="123.5" r="2.740"/><circle cx="890.5" cy="76.5" r="2.740"/><circle cx="892.5" cy="99.5" r="2.740"/><circle cx="894.5" cy="146.5" r="2.740"/><circle cx="895.5" cy="123.5" r="2.740"/><circle cx="897.5" cy="76.5" r="2.740"/><circle cx="899.5" cy="99.5" r="2.740"/><circle cx="901.5" cy="146.5" r="2.740"/><circle cx="902.5" cy="123.5" r="2.740"/><circle cx="904.5" cy="76.5" r="2.740"/><circle cx="906.5" cy="99.5" r="2.740"/><circle cx="907.5" cy="146.5" r="2.740"/><circle cx="909.5" cy="123.5" r="2.740"/><circle cx="911.5" cy="76.5" r="2.740"/><circle cx="912.5" cy="99.5" r="2.740"/><circle cx="914.5" cy="146.5" r="2.740"/><circle cx="916.5" cy="123.5" r="2.740"/><circle cx="918.5" cy="76.5" r="2.740"/><circle cx="919.5" cy="99.5" r="2.740"/><circle cx="921.5" cy="146.5" r="2.740"/><circle cx="923.5" cy="123.5" r="2.740"/><circle cx="924.5" cy="76.5" r="2.740"/><circle cx="926.5" cy="99.5" r="2.740"/><circle cx="928.5" cy="146.5" r="2.740"/><circle cx="929.5" cy="123.5" r="2.740"/><circle cx="931.5" cy="76.5" r="2.740"/><circle cx="933.5" cy="99.5" r="2.740"/><circle cx="934.5" cy="146.5" r="2.740"/><circle cx="936.5" cy="123.5" r="2.740"/><circle cx="938.5" cy="76.5" r="2.740"/><circle cx="940.5" cy="99.5" r="2.740"/><circle cx="941.5" cy="146.5" r="2.740"/><circle cx="943.5" cy="123.5" r="2.740"/><circle cx="945.5" cy="76.5" r="2.740"/></g>
<path d="M57.5 32.5H987.5V494.5H57.5Z" stroke="#000" stroke-width="1.111" fill="none" stroke-linecap="square" stroke-linejoin="miter"/>
<path d="M97.5 494.5v5.10M182.5 494.5v5.10M267.5 494.5v5.10M352.5 494.5v5.10M436.5 494.5v5.10M521.5 494.5v5.10M606.5 494.5v5.10M690.5 494.5v5.10M775.5 494.5v5.10M860.5 494.5v5.10M945.5 494.5v5.10M57.5 473.5h-4.95M57.5 414.5h-4.95M57.5 356.5h-4.95M57.5 298.5h-4.95M57.5 239.5h-4.95M57.5 181.5h-4.95M57.5 123.5h-4.95M57.5 64.5h-4.95" stroke="#000" stroke-width="1.111" fill="none"/>
<path d="M57.0 31.5H988.0M57.0 495.5H988.0M58.0 33.5H987.0M58.0 493.5H987.0M57.0 472.5h-4.60M57.0 474.5h-4.60M57.0 413.5h-4.60M57.0 415.5h-4.60M57.0 355.5h-4.60M57.0 357.5h-4.60M57.0 297.5h-4.60M57.0 299.5h-4.60M57.0 238.5h-4.60M57.0 240.5h-4.60M57.0 180.5h-4.60M57.0 182.5h-4.60M57.0 122.5h-4.60M57.0 124.5h-4.60M57.0 63.5h-4.60M57.0 65.5h-4.60" stroke="#000" stroke-opacity="0.055" stroke-width="1" fill="none"/>
<g opacity="0.999">
<text transform="matrix(1.0225 0 0 1 335.99 23.50)" x="-0.28 12.44 23.12 38.75 48.79 59.39 65.35 74.10 79.18 89.36 99.22 107.96 118.56 124.98 134.37 144.43 154.66 159.83 170.15 180.91 187.23 191.73 201.88 212.12 217.82 223.74 233.88 243.91 249.52 254.96 259.88 265.84 275.15 280.95 286.15 296.49 306.75 316.89 321.84 330.80 341.02 345.53 355.45" y="0" font-size="17.660">Numbers observed during the first 500 spins</text>
<text transform="matrix(1.0114 0 0 1 498.96 534.50)" x="-0.48 9.00 17.71 21.55 30.05 35.90" y="0" font-size="14.717">Spin #</text>
<text transform="translate(19.50 322.99) rotate(-90) scale(1.0332 1)" x="-0.44 8.73 17.08 25.64 29.23 37.94 43.26 48.10 56.35 60.20 70.67 79.45 92.32 100.73 109.44" y="0" font-size="14.717">Roulette Number</text>
<text transform="matrix(0.9948 0 0 1 93.82 514.50)" x="0.35" y="0" font-size="14.717">0</text>
<text transform="matrix(0.9670 0 0 1 173.08 514.50)" x="0.42 9.52" y="0" font-size="14.717">50</text>
<text transform="matrix(0.9809 0 0 1 252.88 514.50)" x="0.33 9.46 18.38" y="0" font-size="14.717">100</text>
<text transform="matrix(0.9617 0 0 1 337.84 514.50)" x="0.43 9.67 18.82" y="0" font-size="14.717">150</text>
<text transform="matrix(0.9832 0 0 1 422.75 514.50)" x="0.21 9.30 18.20" y="0" font-size="14.717">200</text>
<text transform="matrix(0.9644 0 0 1 507.96 514.50)" x="0.30 9.50 18.63" y="0" font-size="14.717">250</text>
<text transform="matrix(0.9818 0 0 1 591.78 514.50)" x="0.42 9.32 18.23" y="0" font-size="14.717">300</text>
<text transform="matrix(0.9631 0 0 1 676.00 514.50)" x="0.51 9.52 18.66" y="0" font-size="14.717">350</text>
<text transform="matrix(0.9949 0 0 1 761.90 514.50)" x="0.34 9.14 17.94" y="0" font-size="14.717">400</text>
<text transform="matrix(0.9767 0 0 1 845.99 514.50)" x="0.43 9.33 18.35" y="0" font-size="14.717">450</text>
<text transform="matrix(0.9763 0 0 1 931.14 514.50)" x="0.37 9.39 18.35" y="0" font-size="14.717">500</text>
<text transform="matrix(0.9948 0 0 1 38.84 478.60)" x="0.35" y="0" font-size="14.717">0</text>
<text transform="matrix(0.9389 0 0 1 37.88 419.51)" x="0.55" y="0" font-size="14.717">5</text>
<text transform="matrix(0.9736 0 0 1 28.84 361.56)" x="0.37 9.56" y="0" font-size="14.717">10</text>
<text transform="matrix(0.9442 0 0 1 29.25 303.72)" x="0.51 9.92" y="0" font-size="14.717">15</text>
<text transform="matrix(0.9773 0 0 1 29.96 244.64)" x="0.24 9.38" y="0" font-size="14.717">20</text>
<text transform="matrix(0.9487 0 0 1 30.13 186.56)" x="0.37 9.73" y="0" font-size="14.717">25</text>
<text transform="matrix(0.9752 0 0 1 29.21 128.60)" x="0.45 9.41" y="0" font-size="14.717">30</text>
<text transform="matrix(0.9471 0 0 1 29.13 69.51)" x="0.59 9.75" y="0" font-size="14.717">35</text>
</g>
</svg></body></html>
